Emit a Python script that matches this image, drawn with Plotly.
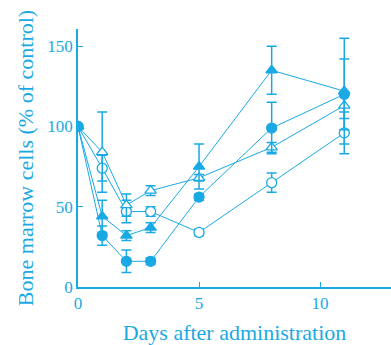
import plotly.graph_objects as go

days = [0, 1, 2, 3, 5, 8, 11]

filled_tri = [100, 44, 32, 37, 75, 135, 122]
filled_tri_err = [0, 10, 3, 3, 14, 15, 33]

open_tri = [100, 84, 51, 60, 68, 87, 113]
open_tri_err = [0, 25, 7, 3, 2, 3, 8]

open_circ = [100, 74, 47, 47, 34, 65, 96]
open_circ_err = [0, 8, 7, 3, 2, 6, 13]

filled_circ = [100, 32, 16, 16, 56, 99, 120]
filled_circ_err = [0, 6, 7, 2, 2, 16, 22]

x_ticks = [0, 5, 10]
y_ticks = [0, 50, 100, 150]

C = "#1aa9e4"
FONT = "Liberation Serif"

fig = go.Figure()

series = [
    (open_circ, open_circ_err, "circle", "white"),
    (open_tri, open_tri_err, "triangle-up", "white"),
    (filled_circ, filled_circ_err, "circle", C),
    (filled_tri, filled_tri_err, "triangle-up", C),
]

for vals, errs, sym, fill in series:
    fig.add_trace(go.Scatter(
        x=days, y=vals, mode="lines+markers",
        line=dict(color=C, width=1),
        marker=dict(symbol=sym, size=10, color=fill,
                    line=dict(color=C, width=1.3)),
        error_y=dict(type="data", array=errs, visible=True, color=C,
                     thickness=1.5, width=5),
        showlegend=False,
    ))

fig.update_layout(
    width=391, height=345,
    margin=dict(l=78, r=0, t=29, b=58),
    paper_bgcolor="white", plot_bgcolor="white",
    font=dict(family=FONT, color=C, size=17),
    xaxis=dict(
        range=[0, 12.93], tickvals=x_ticks, ticktext=[str(v) for v in x_ticks],
        showline=True, linecolor=C, linewidth=1.5, ticks="inside", ticklen=5,
        tickcolor=C, showgrid=False, zeroline=False, automargin=False,
        tickfont=dict(size=17, color=C, family=FONT),
        title=dict(text="Days after administration", font=dict(size=22, color=C, family=FONT), standoff=13),
    ),
    yaxis=dict(
        range=[0, 160.7], tickvals=y_ticks, ticktext=[str(v) for v in y_ticks],
        showline=True, linecolor=C, linewidth=1.5, ticks="inside", ticklen=5,
        tickcolor=C, showgrid=False, zeroline=False, automargin=False,
        tickfont=dict(size=17, color=C, family=FONT),
        title=dict(text="Bone marrow cells (% of control)", font=dict(size=22, color=C, family=FONT), standoff=8),
    ),
)

fig.write_html("out.html", config={"displayModeBar": False},
               post_script="document.body.style.margin='0';")
